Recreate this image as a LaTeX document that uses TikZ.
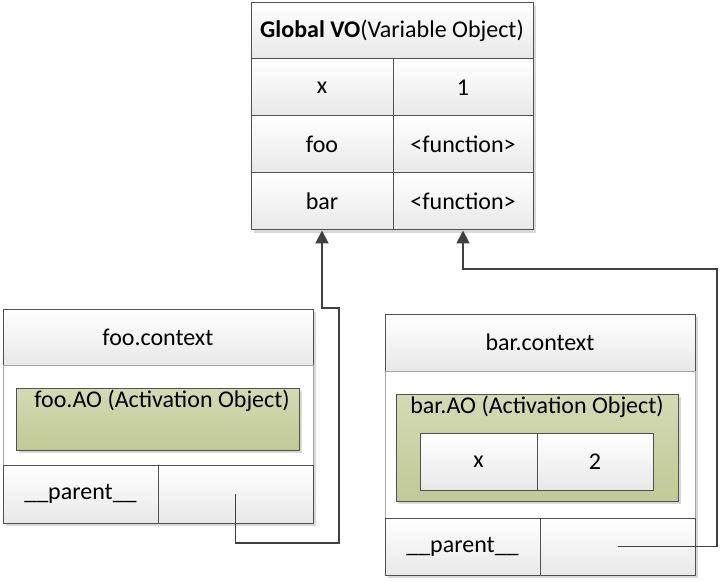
\documentclass[tikz,border=0pt]{standalone}
\usepackage{fontspec}
\setmainfont{Carlito}
\usetikzlibrary{arrows.meta,positioning,shadows}
\definecolor{edgec}{RGB}{80,80,80}
\definecolor{linkc}{RGB}{64,64,64}
\definecolor{aotop}{RGB}{212,218,180}
\definecolor{aobot}{RGB}{192,201,150}
\tikzset{
  txt/.style={font=\fontsize{12}{14}\selectfont},
  cell/.style={rectangle, draw=edgec, line width=0.5pt, top color=white, bottom color=black!9, inner sep=0pt, txt},
  frame/.style={rectangle, draw=edgec, line width=0.5pt, fill=white, inner sep=0pt,
    drop shadow={shadow xshift=1.5pt, shadow yshift=-1.5pt, fill=black!30, opacity=0.5}},
  midbox/.style={rectangle, draw=black!35, line width=0.4pt, fill=white, inner sep=0pt},
  aobox/.style={rectangle, draw=edgec, line width=0.5pt, top color=aotop, bottom color=aobot, inner sep=0pt,
    drop shadow={shadow xshift=1.5pt, shadow yshift=-1.5pt, fill=black!30, opacity=0.5}},
  link/.style={draw=linkc, line width=0.9pt, -{Triangle[length=6.5pt, width=6.5pt]}},
}

\begin{document}
\begin{tikzpicture}[x=0.5pt, y=-0.5pt]
  \useasboundingbox (0,0) rectangle (721,582);

  %% === Global VO ===
  \node[frame, minimum width=141pt, minimum height=113.5pt] (gframe) at (392,116.5) {};
  \node[cell, minimum width=141pt, minimum height=28pt] (gvo) at (392,31) {\textbf{Global VO}(Variable Object)};
  \foreach \n/\k/\v/\y in {x/x/1/87.5, foo/foo/{<function>}/144.5, bar/bar/{<function>}/201.5} {
    \node[cell, minimum width=71pt, minimum height=28.5pt] (g\n) at (322,\y) {\k};
    \node[cell, minimum width=70pt, minimum height=28.5pt] (g\n v) at (463,\y) {\v};
  }

  %% === foo.context ===
  \node[frame, minimum width=155pt, minimum height=107pt] (fframe) at (158,416) {};
  \node[cell, minimum width=155pt, minimum height=28pt] (fhead) at (158,337) {foo.context};
  \node[midbox, minimum width=155pt, minimum height=50pt] (fmid) at (158,415) {};
  \node[aobox, minimum width=141.5pt, minimum height=31pt] (fao) at (157.5,419) {};
  \node[txt] (faolabel) at (162,401) {foo.AO (Activation Object)};
  \node[cell, minimum width=77.5pt, minimum height=29pt] (fp) at (80.5,494) {\_\_parent\_\_};
  \node[cell, minimum width=77.5pt, minimum height=29pt] (fpv) at (235.5,494) {};

  %% === bar.context ===
  \node[frame, minimum width=155pt, minimum height=130.5pt] (bframe) at (540,444.5) {};
  \node[cell, minimum width=155pt, minimum height=28.5pt] (bhead) at (540,342.5) {bar.context};
  \node[midbox, minimum width=155pt, minimum height=73.5pt] (bmid) at (540,444.5) {};
  \node[aobox, minimum width=141pt, minimum height=53.5pt] (bao) at (537,447.5) {};
  \node[txt] (baolabel) at (537,407) {bar.AO (Activation Object)};
  \node[cell, minimum width=58.5pt, minimum height=28.5pt] (bx) at (478.5,461.5) {x};
  \node[cell, minimum width=58pt, minimum height=28.5pt] (bxv) at (595,461.5) {2};
  \node[cell, minimum width=77.5pt, minimum height=28.5pt] (bp) at (462.5,546.5) {\_\_parent\_\_};
  \node[cell, minimum width=77.5pt, minimum height=28.5pt] (bpv) at (617.5,546.5) {};

  % Parent links
  \coordinate (fa) at (339,543);
  \coordinate (fb) at (322,308);
  \coordinate (ba) at (717,269);
  \draw[link] (fpv.center) |- (fa) |- (fb) -- (gbar.south);
  \draw[link] (bpv.center) -| (ba) -| (gbarv.south);
\end{tikzpicture}
\end{document}
